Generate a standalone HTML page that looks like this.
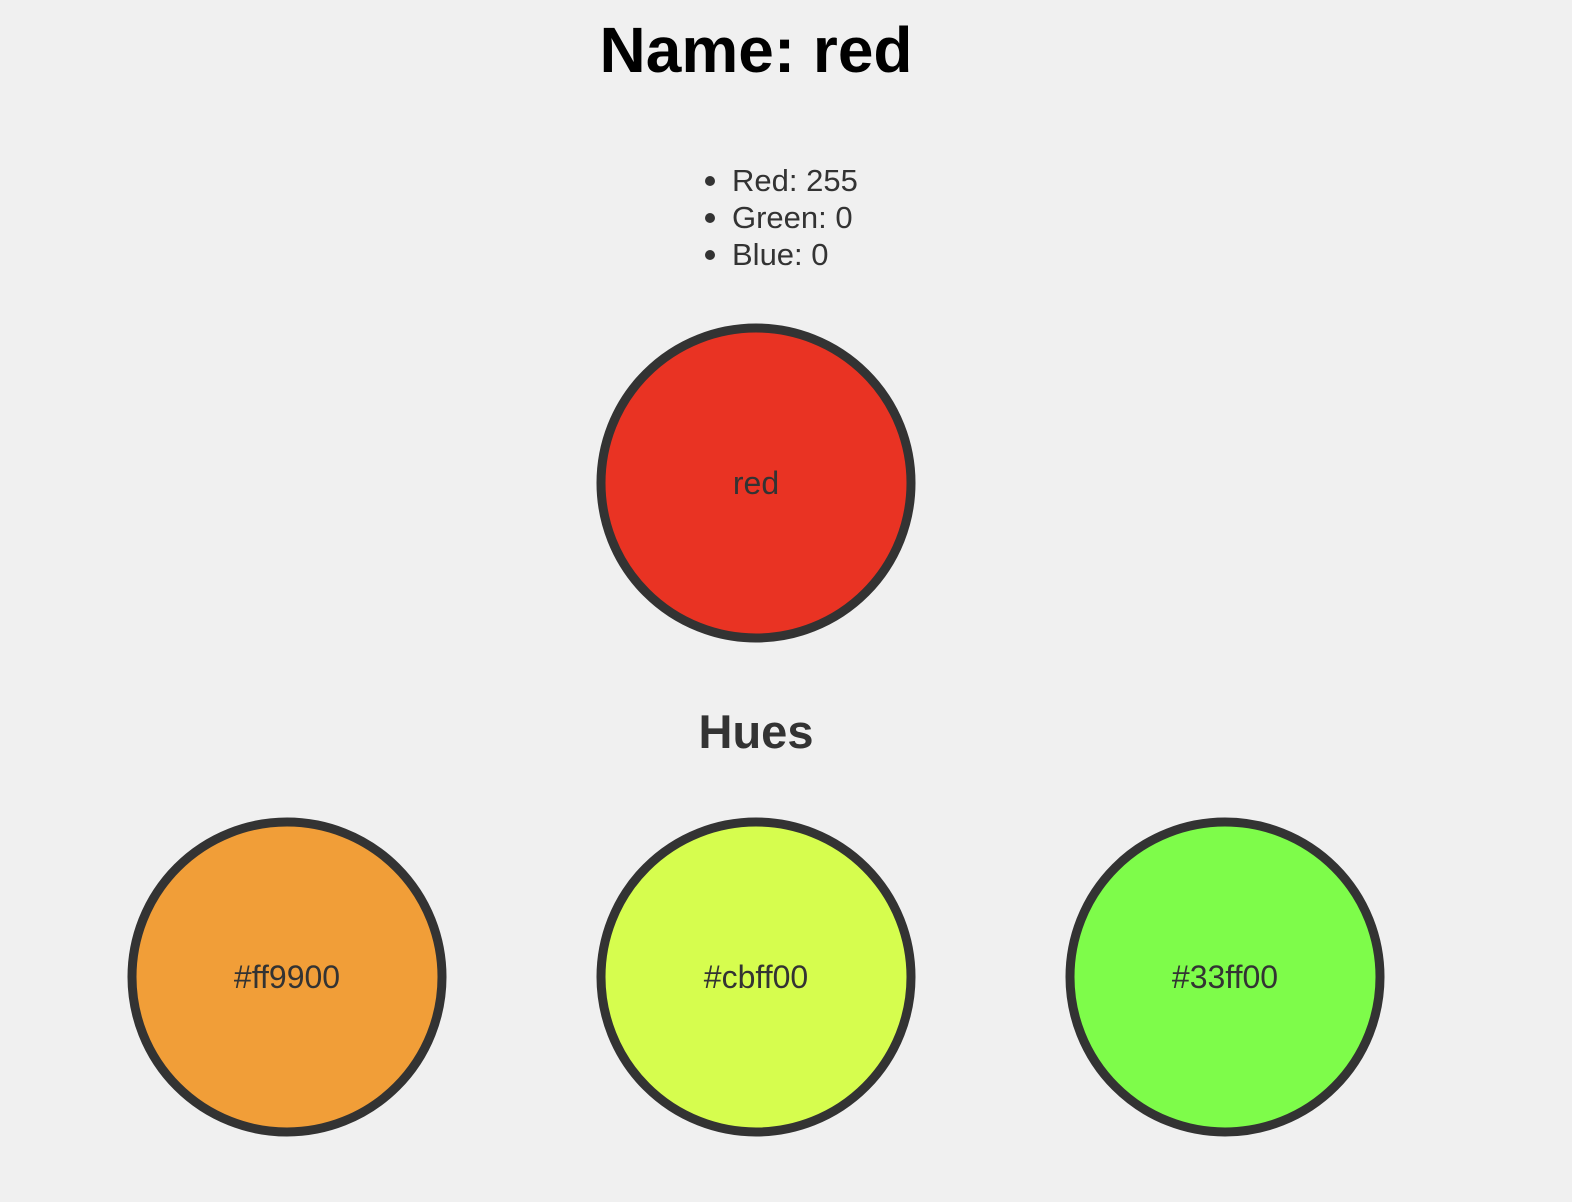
<!DOCTYPE html>
<html><head><meta charset="utf-8"><style>
html,body{margin:0;padding:0;background:#f0f0f0;width:1572px;height:1202px;overflow:hidden}
svg{display:block}
text{font-family:"Liberation Sans",Arial,sans-serif}
</style></head><body>
<svg width="1572" height="1202" viewBox="0 0 1572 1202">
<text x="756" y="72" text-anchor="middle" font-size="64" font-weight="bold" fill="#000">Name: red</text>
<g font-size="31" fill="#333">
<circle cx="710" cy="181" r="5" fill="#333"/><text x="732" y="191">Red: 255</text>
<circle cx="710" cy="218" r="5" fill="#333"/><text x="732" y="228">Green: 0</text>
<circle cx="710" cy="255" r="5" fill="#333"/><text x="732" y="265">Blue: 0</text>
</g>
<circle cx="756" cy="483" r="155" fill="#e93323" stroke="#333" stroke-width="9"/>
<text x="756" y="494" text-anchor="middle" font-size="32" fill="#333">red</text>
<text x="756" y="748" text-anchor="middle" font-size="47" font-weight="bold" fill="#333">Hues</text>
<circle cx="287" cy="977" r="155" fill="#f19e38" stroke="#333" stroke-width="9"/>
<text x="287" y="988" text-anchor="middle" font-size="32" fill="#333">#ff9900</text>
<circle cx="756" cy="977" r="155" fill="#d6fd4e" stroke="#333" stroke-width="9"/>
<text x="756" y="988" text-anchor="middle" font-size="32" fill="#333">#cbff00</text>
<circle cx="1225" cy="977" r="155" fill="#7efc4a" stroke="#333" stroke-width="9"/>
<text x="1225" y="988" text-anchor="middle" font-size="32" fill="#333">#33ff00</text>
</svg>
</body></html>
